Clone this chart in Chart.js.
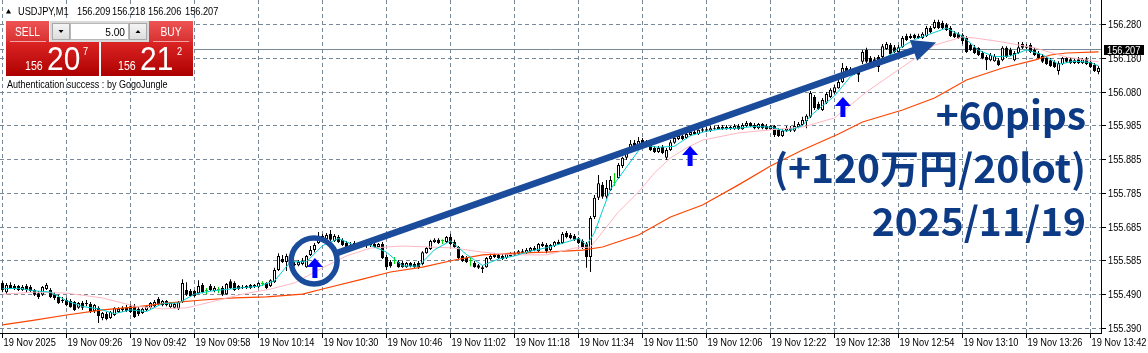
<!DOCTYPE html>
<html><head><meta charset="utf-8">
<script src="https://cdn.jsdelivr.net/npm/chart.js@4.4.1/dist/chart.umd.min.js"></script>
<style>html,body{margin:0;padding:0;background:#fff;overflow:hidden}canvas{display:block}</style>
</head><body>
<canvas id="c" width="1148" height="353"></canvas>
<script>
// ---------- data ----------
const symbol = 'USDJPY,M1';
const quote = ['156.209','156.218','156.206','156.207'];
const lastPrice = 156.207;
const sellPrice = ['156','20','7'];
const buyPrice = ['156','21','2'];
const lotSize = '5.00';
const authText = 'Authentication success : by GogoJungle';
const noteLines = ['+60pips','(+120万円/20lot)','2025/11/19'];

const xTickIdx = [0,16,32,48,64,80,96,112,128,144,160,176,192,208,224,240,256,272];
const xTickLabels = ['19 Nov 2025','19 Nov 09:26','19 Nov 09:42','19 Nov 09:58','19 Nov 10:14','19 Nov 10:30','19 Nov 10:46','19 Nov 11:02','19 Nov 11:18','19 Nov 11:34','19 Nov 11:50','19 Nov 12:06','19 Nov 12:22','19 Nov 12:38','19 Nov 12:54','19 Nov 13:10','19 Nov 13:26','19 Nov 13:42'];
const yTickLabels = ['155.390','155.490','155.585','155.685','155.785','155.885','155.985','156.080','156.180','156.280'];

const open = [155.522,155.495,155.516,155.513,155.513,155.501,155.513,155.510,155.501,155.492,
155.487,155.504,155.501,155.489,155.481,155.472,155.472,155.469,155.466,155.449,
155.463,155.463,155.460,155.440,155.449,155.419,155.431,155.419,155.428,155.437,
155.449,155.451,155.454,155.454,155.446,155.434,155.443,155.449,155.454,155.475,
155.457,155.469,155.451,155.449,155.446,155.466,155.501,155.498,155.498,155.492,
155.516,155.498,155.513,155.498,155.501,155.507,155.489,155.527,155.522,155.513,
155.510,155.513,155.516,155.510,155.510,155.519,155.522,155.513,155.524,155.560,
155.592,155.583,155.583,155.577,155.574,155.577,155.568,155.604,155.618,155.639,
155.659,155.650,155.665,155.645,155.656,155.648,155.639,155.633,155.639,155.636,
155.630,155.636,155.633,155.636,155.627,155.636,155.598,155.583,155.586,155.583,
155.580,155.568,155.580,155.577,155.580,155.577,155.609,155.621,155.642,155.648,
155.645,155.642,155.656,155.642,155.627,155.601,155.595,155.586,155.580,155.574,
155.568,155.568,155.592,155.598,155.604,155.601,155.595,155.609,155.604,155.607,
155.615,155.609,155.615,155.624,155.615,155.636,155.633,155.618,155.630,155.642,
155.639,155.668,155.662,155.659,155.653,155.645,155.636,155.598,155.715,155.771,
155.809,155.774,155.794,155.814,155.829,155.864,155.888,155.905,155.932,155.923,
155.940,155.926,155.932,155.917,155.905,155.920,155.888,155.911,155.932,155.943,
155.952,155.946,155.955,155.964,155.958,155.967,155.972,155.967,155.975,155.972,
155.978,155.972,155.978,155.972,155.981,155.972,155.981,155.990,155.984,155.975,
155.987,155.981,155.972,155.981,155.970,155.952,155.967,155.975,155.967,155.978,
155.984,155.996,156.008,156.066,156.046,156.028,156.049,156.066,156.081,156.092,
156.110,156.151,156.148,156.145,156.148,156.169,156.204,156.180,156.177,156.183,
156.183,156.207,156.218,156.212,156.198,156.212,156.245,156.239,156.248,156.245,
156.239,156.245,156.268,156.268,156.286,156.283,156.277,156.268,156.253,156.251,
156.248,156.239,156.218,156.212,156.210,156.195,156.183,156.174,156.171,156.174,
156.174,156.210,156.204,156.174,156.195,156.221,156.210,156.218,156.204,156.195,
156.186,156.180,156.174,156.169,156.142,156.163,156.180,156.177,156.166,156.177,
156.166,156.177,156.169,156.160,156.139];
const high = [155.527,155.522,155.524,155.519,155.516,155.516,155.519,155.516,155.504,155.498,
155.513,155.522,155.507,155.495,155.487,155.481,155.478,155.475,155.469,155.466,
155.469,155.472,155.466,155.460,155.454,155.437,155.437,155.440,155.451,155.451,
155.454,155.457,155.460,155.460,155.451,155.449,155.457,155.466,155.472,155.481,
155.472,155.472,155.466,155.463,155.469,155.533,155.524,155.504,155.501,155.530,
155.522,155.507,155.519,155.513,155.510,155.513,155.522,155.533,155.527,155.516,
155.516,155.516,155.519,155.519,155.524,155.527,155.524,155.533,155.566,155.609,
155.604,155.607,155.589,155.583,155.589,155.595,155.604,155.630,155.639,155.671,
155.665,155.668,155.677,155.665,155.662,155.653,155.645,155.642,155.645,155.642,
155.642,155.639,155.639,155.642,155.639,155.642,155.604,155.589,155.598,155.589,
155.586,155.583,155.583,155.583,155.586,155.615,155.627,155.648,155.653,155.653,
155.650,155.659,155.665,155.648,155.630,155.604,155.601,155.595,155.586,155.577,
155.574,155.598,155.607,155.609,155.607,155.607,155.609,155.612,155.615,155.618,
155.621,155.624,155.627,155.630,155.639,155.642,155.639,155.636,155.645,155.648,
155.671,155.674,155.668,155.665,155.656,155.650,155.642,155.718,155.779,155.838,
155.817,155.823,155.835,155.844,155.873,155.891,155.917,155.940,155.940,155.949,
155.946,155.940,155.937,155.923,155.923,155.926,155.917,155.940,155.952,155.958,
155.958,155.964,155.970,155.970,155.972,155.978,155.978,155.981,155.981,155.984,
155.984,155.984,155.981,155.987,155.987,155.990,155.996,155.993,155.990,155.990,
155.990,155.987,155.984,155.984,155.975,155.972,155.981,155.981,155.996,155.993,
156.008,156.016,156.084,156.072,156.052,156.063,156.081,156.092,156.101,156.116,
156.166,156.157,156.154,156.151,156.154,156.204,156.210,156.186,156.183,156.189,
156.221,156.227,156.224,156.218,156.218,156.245,156.251,156.251,156.251,156.251,
156.256,156.274,156.274,156.292,156.292,156.289,156.283,156.274,156.259,156.256,
156.253,156.245,156.224,156.218,156.212,156.201,156.189,156.195,156.192,156.180,
156.215,156.215,156.210,156.201,156.227,156.227,156.221,156.224,156.210,156.201,
156.192,156.183,156.180,156.174,156.171,156.183,156.183,156.183,156.180,156.183,
156.180,156.183,156.174,156.166,156.157];
const low = [155.495,155.489,155.504,155.501,155.498,155.498,155.495,155.495,155.484,155.475,
155.484,155.501,155.478,155.472,155.460,155.463,155.454,155.449,155.440,155.446,
155.443,155.454,155.434,155.434,155.405,155.413,155.413,155.416,155.425,155.434,
155.437,155.437,155.434,155.419,155.425,155.431,155.440,155.446,155.451,155.457,
155.454,155.454,155.449,155.446,155.443,155.463,155.484,155.481,155.481,155.489,
155.492,155.489,155.498,155.495,155.492,155.484,155.487,155.504,155.498,155.501,
155.504,155.504,155.504,155.507,155.507,155.513,155.504,155.510,155.522,155.557,
155.580,155.557,155.571,155.571,155.571,155.574,155.566,155.601,155.612,155.636,
155.642,155.648,155.645,155.642,155.639,155.630,155.624,155.627,155.621,155.627,
155.627,155.624,155.627,155.624,155.624,155.592,155.560,155.566,155.577,155.566,
155.566,155.566,155.568,155.566,155.563,155.574,155.607,155.618,155.639,155.636,
155.636,155.639,155.633,155.624,155.592,155.583,155.580,155.571,155.566,155.563,
155.551,155.566,155.589,155.595,155.592,155.589,155.592,155.598,155.601,155.604,
155.607,155.607,155.612,155.615,155.612,155.627,155.609,155.615,155.627,155.633,
155.636,155.653,155.650,155.645,155.636,155.621,155.566,155.554,155.709,155.765,
155.768,155.768,155.791,155.806,155.826,155.858,155.882,155.902,155.917,155.920,
155.923,155.923,155.908,155.902,155.902,155.899,155.882,155.908,155.929,155.940,
155.940,155.943,155.952,155.955,155.955,155.964,155.964,155.964,155.970,155.970,
155.970,155.970,155.970,155.970,155.970,155.970,155.978,155.978,155.972,155.972,
155.972,155.970,155.970,155.949,155.949,155.949,155.964,155.964,155.964,155.975,
155.981,155.975,156.005,156.028,156.028,156.025,156.046,156.063,156.075,156.090,
156.107,156.136,156.133,156.131,156.110,156.163,156.166,156.160,156.166,156.139,
156.180,156.204,156.189,156.195,156.195,156.210,156.230,156.236,156.236,156.236,
156.236,156.242,156.253,156.265,156.265,156.265,156.259,156.242,156.239,156.236,
156.221,156.195,156.201,156.192,156.186,156.177,156.145,156.171,156.169,156.157,
156.171,156.180,156.186,156.171,156.192,156.207,156.207,156.195,156.186,156.177,
156.166,156.160,156.154,156.151,156.131,156.160,156.166,156.163,156.163,156.163,
156.163,156.160,156.151,156.139,156.133];
const close = [155.501,155.516,155.507,155.504,155.501,155.510,155.501,155.498,155.487,155.481,
155.510,155.516,155.481,155.478,155.463,155.469,155.457,155.451,155.443,155.463,
155.449,155.460,155.437,155.457,155.425,155.434,155.416,155.437,155.449,155.446,
155.443,155.440,155.437,155.422,155.431,155.446,155.454,155.463,155.466,155.460,
155.469,155.457,155.463,155.460,155.466,155.522,155.487,155.484,155.484,155.513,
155.495,155.498,155.501,155.507,155.501,155.487,155.519,155.507,155.501,155.504,
155.507,155.507,155.507,155.516,155.522,155.519,155.507,155.530,155.560,155.601,
155.583,155.601,155.574,155.574,155.583,155.586,155.601,155.618,155.633,155.656,
155.648,155.662,155.648,155.659,155.642,155.633,155.627,155.630,155.627,155.630,
155.636,155.630,155.636,155.627,155.636,155.595,155.568,155.571,155.586,155.568,
155.568,155.580,155.571,155.568,155.568,155.612,155.624,155.645,155.648,155.639,
155.645,155.656,155.636,155.627,155.595,155.586,155.583,155.586,155.568,155.566,
155.563,155.595,155.601,155.604,155.595,155.592,155.607,155.601,155.609,155.615,
155.609,155.618,155.624,155.618,155.636,155.630,155.615,155.633,155.642,155.636,
155.665,155.656,155.653,155.648,155.639,155.627,155.598,155.712,155.771,155.814,
155.774,155.800,155.823,155.814,155.867,155.888,155.911,155.929,155.920,155.937,
155.926,155.934,155.911,155.905,155.917,155.902,155.911,155.934,155.946,155.952,
155.943,155.958,155.964,155.958,155.970,155.972,155.967,155.975,155.972,155.978,
155.972,155.978,155.972,155.981,155.972,155.984,155.990,155.981,155.975,155.987,
155.975,155.972,155.981,155.955,155.952,155.967,155.975,155.967,155.981,155.987,
155.999,156.011,156.078,156.034,156.031,156.057,156.075,156.087,156.095,156.110,
156.151,156.139,156.136,156.136,156.131,156.198,156.169,156.163,156.169,156.154,
156.215,156.221,156.192,156.198,156.212,156.239,156.233,156.245,156.239,156.239,
156.251,156.268,156.256,156.286,156.268,156.268,156.262,156.245,156.242,156.239,
156.230,156.198,156.204,156.195,156.189,156.180,156.174,156.189,156.186,156.160,
156.210,156.183,156.189,156.195,156.212,156.210,156.215,156.198,156.189,156.180,
156.169,156.163,156.157,156.154,156.166,156.180,156.169,156.166,156.174,156.166,
156.177,156.163,156.154,156.142,156.151];

const maFastIdx = [0,4,8,12,16,20,24,28,32,36,40,44,48,52,56,60,64,68,72,76,80,84,88,92,96,100,104,108,112,116,120,124,128,132,136,140,144,146,148,150,152,156,160,164,168,172,176,180,184,188,192,196,200,202,204,208,212,216,220,224,228,232,236,240,244,248,252,256,260,264,268,272,274];
const maFastVal = [155.505,155.506,155.499,155.495,155.470,155.453,155.446,155.432,155.443,155.438,155.462,155.463,155.489,155.498,155.503,155.508,155.512,155.528,155.584,155.584,155.631,155.652,155.632,155.632,155.612,155.572,155.571,155.619,155.645,155.605,155.573,155.592,155.601,155.615,155.625,155.638,155.652,155.633,155.669,155.734,155.796,155.861,155.925,155.919,155.922,155.953,155.966,155.973,155.975,155.980,155.978,155.966,155.982,156.011,156.031,156.069,156.126,156.154,156.174,156.208,156.234,156.251,156.268,156.244,156.203,156.184,156.186,156.204,156.190,156.162,156.171,156.167,156.157];
const maMidIdx = [0,8,16,25,33,40,46,52,60,67,73,80,86,92,100,107,113,120,128,136,143,147,150,154,159,163,167,171,175,184,192,200,208,216,225,233,240,243,250,258,266,274];
const maMidVal = [155.489,155.495,155.492,155.478,155.454,155.446,155.449,155.466,155.489,155.504,155.522,155.566,155.601,155.624,155.630,155.627,155.624,155.612,155.604,155.604,155.624,155.627,155.671,155.730,155.788,155.844,155.888,155.917,155.940,155.961,155.970,155.978,156.005,156.081,156.154,156.218,156.242,156.239,156.227,156.210,156.183,156.169];
const maSlowIdx = [0,8,16,25,33,41,50,58,66,75,81,90,97,105,113,120,128,136,145,150,159,167,175,184,192,200,209,215,225,233,241,250,258,262,266,274];
const maSlowVal = [155.399,155.413,155.428,155.443,155.451,155.463,155.472,155.478,155.481,155.489,155.507,155.533,155.554,155.568,155.589,155.604,155.609,155.612,155.618,155.627,155.662,155.715,155.750,155.809,155.864,155.911,155.958,155.993,156.028,156.063,156.116,156.151,156.174,156.189,156.195,156.198];

// annotation anchors in data space (bar index, price)
const circleAt = [77.9, 155.586];
const arrowFrom = [83, 155.607];
const arrowTo = [233.4, 156.226];
const upArrowIdx = [78.1, 171.9, 210.1];
const upArrowTop = [155.595, 155.923, 156.066];

// ---------- derived ----------
const Y_MIN = 155.37537, Y_MAX = 156.35006;
const yTickVals = yTickLabels.map((_, k) => 155.390 + k * (156.280 - 155.390) / (yTickLabels.length - 1));
const DOJI = '#00d800';
const bodyFill = close.map((c, i) => c > open[i] ? '#ffffff' : (c < open[i] ? '#000000' : DOJI));
const bodyEdge = close.map((c, i) => c === open[i] ? DOJI : '#000000');
const wickCol = close.map((c, i) => c === open[i] ? DOJI : '#000000');

const UI_FONT = '"Liberation Sans", Arial, sans-serif';
function nText(ctx, s, x, y, size, color, align, sx, weight) {
  ctx.save();
  ctx.font = (weight || '') + ' ' + size + 'px ' + UI_FONT;
  ctx.fillStyle = color;
  ctx.textAlign = align || 'left';
  ctx.textBaseline = 'alphabetic';
  ctx.translate(x, y);
  ctx.scale(sx || 0.88, 1);
  ctx.fillText(s, 0, 0);
  ctx.restore();
}
function grad(ctx, y0, y1, c0, c1) {
  const g = ctx.createLinearGradient(0, y0, 0, y1);
  g.addColorStop(0, c0); g.addColorStop(1, c1); return g;
}

function drawPanel(ctx) {
  ctx.fillStyle = '#000';
  ctx.beginPath(); ctx.moveTo(6, 13.5); ctx.lineTo(11, 13.5); ctx.lineTo(8.5, 9); ctx.closePath(); ctx.fill();
  nText(ctx, symbol, 18, 15, 10.5, '#000');
  const qx = [77, 112, 148, 185];
  quote.forEach((q, k) => nText(ctx, q, qx[k], 15, 10.5, '#000'));
  ctx.fillStyle = '#ffffff';
  ctx.fillRect(4, 19, 190, 59);
  ctx.fillStyle = grad(ctx, 21, 42, '#ee5454', '#d83030');
  ctx.fillRect(6, 21, 43, 21);
  ctx.fillRect(149, 21, 44, 21);
  ctx.fillStyle = grad(ctx, 42, 76, '#dc2424', '#ad0000');
  ctx.fillRect(6, 42, 93, 34);
  ctx.fillRect(101, 42, 92, 34);
  ctx.fillStyle = '#f3a4a4';
  ctx.fillRect(10, 41, 36, 1);
  ctx.fillRect(153, 41, 36, 1);
  ctx.fillStyle = '#d9d9d9'; ctx.fillRect(50, 21, 99, 21);
  ctx.fillStyle = grad(ctx, 23, 40, '#f6f6f6', '#dcdcdc');
  ctx.fillRect(52, 23, 18, 17); ctx.fillRect(129, 23, 18, 17);
  ctx.strokeStyle = '#a8a8a8'; ctx.lineWidth = 1;
  ctx.strokeRect(52.5, 23.5, 17, 16); ctx.strokeRect(129.5, 23.5, 17, 16);
  ctx.fillStyle = '#ffffff'; ctx.fillRect(71, 23, 57, 17);
  ctx.strokeStyle = '#b8b8b8'; ctx.strokeRect(70.5, 23.5, 58, 16);
  ctx.fillStyle = '#000';
  ctx.beginPath(); ctx.moveTo(58.5, 30); ctx.lineTo(63.5, 30); ctx.lineTo(61, 33); ctx.closePath(); ctx.fill();
  ctx.beginPath(); ctx.moveTo(135.5, 33); ctx.lineTo(140.5, 33); ctx.lineTo(138, 30); ctx.closePath(); ctx.fill();
  nText(ctx, lotSize, 125, 36, 11.5, '#000', 'right');
  nText(ctx, 'SELL', 27.5, 36, 12, '#fff', 'center', 0.85);
  nText(ctx, 'BUY', 171, 36, 12, '#fff', 'center', 0.85);
  nText(ctx, sellPrice[0], 25, 70, 12.5, '#fff', 'left', 0.85);
  nText(ctx, sellPrice[1], 47, 70, 34, '#fff', 'left', 0.88);
  nText(ctx, sellPrice[2], 83, 54.5, 10.5, '#fff', 'left', 0.88);
  nText(ctx, buyPrice[0], 118, 70, 12.5, '#fff', 'left', 0.85);
  nText(ctx, buyPrice[1], 140, 70, 34, '#fff', 'left', 0.88);
  nText(ctx, buyPrice[2], 177, 55, 10.5, '#fff', 'left', 0.88);
  nText(ctx, authText, 7, 87.5, 10.5, '#000', 'left', 0.86);
}

const mt4Plugin = {
  id: 'mt4',
  beforeDatasetsDraw(chart) {
    const {ctx, chartArea: a, scales: {x, y}} = chart;
    ctx.save();
    ctx.strokeStyle = '#778899'; ctx.lineWidth = 1; ctx.setLineDash([4, 3]);
    ctx.beginPath();
    yTickVals.forEach(v => { const py = Math.round(y.getPixelForValue(v)) + 0.5; ctx.moveTo(a.left, py); ctx.lineTo(a.right, py); });
    xTickIdx.forEach(i => { const px = Math.floor(x.getPixelForValue(i)) + 0.5; ctx.moveTo(px, a.top); ctx.lineTo(px, a.bottom); });
    ctx.stroke();
    ctx.setLineDash([]);
    const pl = Math.round(y.getPixelForValue(lastPrice)) + 0.5;
    ctx.beginPath(); ctx.moveTo(a.left, pl); ctx.lineTo(a.right, pl); ctx.stroke();
    ctx.restore();
  },
  afterDatasetsDraw(chart) {
    const {ctx, scales: {x, y}} = chart;
    const navy = '#1b4b9b';
    ctx.save();
    ctx.strokeStyle = navy; ctx.lineWidth = 5.5;
    ctx.beginPath(); ctx.arc(x.getPixelForValue(circleAt[0]), y.getPixelForValue(circleAt[1]), 23, 0, Math.PI * 2); ctx.stroke();
    const sx = x.getPixelForValue(arrowFrom[0]), sy = y.getPixelForValue(arrowFrom[1]);
    const tx = x.getPixelForValue(arrowTo[0]), ty = y.getPixelForValue(arrowTo[1]);
    const ang = Math.atan2(ty - sy, tx - sx), ca = Math.cos(ang), sa = Math.sin(ang);
    const hl = 24, hw = 11;
    const bx = tx - hl * ca, by = ty - hl * sa;
    ctx.lineWidth = 6.5; ctx.lineCap = 'butt';
    ctx.beginPath(); ctx.moveTo(sx, sy); ctx.lineTo(bx + 2 * ca, by + 2 * sa); ctx.stroke();
    ctx.fillStyle = navy;
    ctx.beginPath(); ctx.moveTo(tx, ty); ctx.lineTo(bx - hw * sa, by + hw * ca); ctx.lineTo(bx + hw * sa, by - hw * ca); ctx.closePath(); ctx.fill();
    ctx.fillStyle = '#0000ff';
    upArrowIdx.forEach((iv, k) => {
      const cx = x.getPixelForValue(iv), t = y.getPixelForValue(upArrowTop[k]);
      ctx.beginPath();
      ctx.moveTo(cx, t); ctx.lineTo(cx + 8, t + 9); ctx.lineTo(cx + 2.5, t + 9); ctx.lineTo(cx + 2.5, t + 20);
      ctx.lineTo(cx - 2.5, t + 20); ctx.lineTo(cx - 2.5, t + 9); ctx.lineTo(cx - 8, t + 9); ctx.closePath(); ctx.fill();
    });
    ctx.fillStyle = '#0c3a84';
    ctx.font = 'bold 39px "Noto Sans CJK JP", "Noto Sans", sans-serif';
    ctx.textAlign = 'right'; ctx.textBaseline = 'alphabetic';
    const bl = [130, 183, 236];
    noteLines.forEach((s, k) => ctx.fillText(s, 1086, bl[k]));
    ctx.restore();
  },
  afterDraw(chart) {
    const {ctx, chartArea: a, scales: {x, y}} = chart;
    ctx.save();
    ctx.strokeStyle = '#000'; ctx.lineWidth = 1;
    ctx.beginPath();
    ctx.moveTo(0, a.bottom + 0.5); ctx.lineTo(a.right + 1, a.bottom + 0.5);
    ctx.moveTo(a.right + 0.5, 0); ctx.lineTo(a.right + 0.5, a.bottom + 1);
    xTickIdx.forEach(i => { const px = Math.floor(x.getPixelForValue(i)) + 0.5; ctx.moveTo(px, a.bottom); ctx.lineTo(px, a.bottom + 5); });
    yTickVals.forEach(v => { const py = Math.round(y.getPixelForValue(v)) + 0.5; ctx.moveTo(a.right, py); ctx.lineTo(a.right + 5, py); });
    ctx.stroke();
    xTickIdx.forEach((i, k) => nText(ctx, xTickLabels[k], Math.floor(x.getPixelForValue(i)) + 1.5, 345.5, 10.5, '#000'));
    yTickVals.forEach((v, k) => nText(ctx, yTickLabels[k], a.right + 7, Math.round(y.getPixelForValue(v)) + 4, 10.5, '#000'));
    const pl = Math.round(y.getPixelForValue(lastPrice));
    ctx.fillStyle = '#000'; ctx.fillRect(a.right + 3, pl - 4, 40, 10);
    nText(ctx, quote[3], a.right + 6, pl + 5, 10.5, '#fff');
    drawPanel(ctx);
    ctx.restore();
  }
};

new Chart(document.getElementById('c'), {
  type: 'bar',
  data: {
    datasets: [
      {type: 'line', label: 'MA fast', data: maFastIdx.map((v, k) => ({x: v, y: maFastVal[k]})), borderColor: '#00ced1', borderWidth: 1, pointRadius: 0, tension: 0, fill: false, order: 0},
      {type: 'line', label: 'MA mid', data: maMidIdx.map((v, k) => ({x: v, y: maMidVal[k]})), borderColor: '#ffb6c1', borderWidth: 1, pointRadius: 0, tension: 0, fill: false, order: 0},
      {type: 'line', label: 'MA slow', data: maSlowIdx.map((v, k) => ({x: v, y: maSlowVal[k]})), borderColor: '#ff4500', borderWidth: 1.2, pointRadius: 0, tension: 0, fill: false, order: 0},
      {label: 'body', data: open.map((o, i) => ({x: i, y: [o, close[i]]})), backgroundColor: bodyFill, borderColor: bodyEdge, borderWidth: 1, borderSkipped: false, barThickness: 3, grouped: false, minBarLength: 1, inflateAmount: 0, order: 1},
      {label: 'wick', data: low.map((l, i) => ({x: i, y: [l, high[i]]})), backgroundColor: wickCol, borderWidth: 0, barThickness: 1, grouped: false, inflateAmount: 0, order: 2}
    ]
  },
  options: {
    responsive: false, animation: false, devicePixelRatio: 1,
    layout: {padding: 0},
    plugins: {legend: {display: false}, tooltip: {enabled: false}},
    scales: {
      x: {type: 'linear', min: -0.625, max: 274.625, offset: false, grid: {display: false}, border: {display: false}, ticks: {display: false}, afterFit(s) { s.height = 20; }},
      y: {type: 'linear', position: 'right', min: Y_MIN, max: Y_MAX, grid: {display: false}, border: {display: false}, ticks: {display: false}, afterFit(s) { s.width = 47; }}
    }
  },
  plugins: [mt4Plugin]
});
</script>
</body></html>
